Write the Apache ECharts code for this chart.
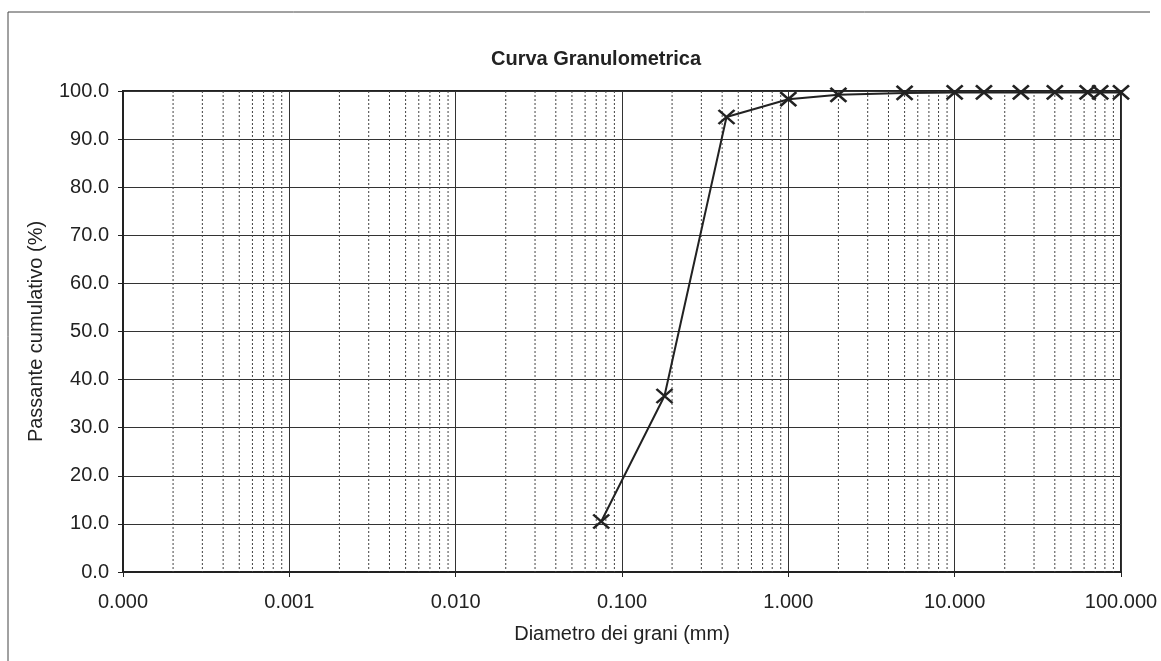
<!DOCTYPE html>
<html>
<head>
<meta charset="utf-8">
<script src="https://cdn.jsdelivr.net/npm/echarts@6/dist/echarts.min.js"></script>
<style>
  html, body { margin: 0; padding: 0; background: #fff; }
  #chart { width: 1161px; height: 661px; }
</style>
</head>
<body>
<div id="chart"></div>
<script>
// diametri setacci (mm) e passante cumulativo (%)
const diametri = [0.075, 0.18, 0.425, 1, 2, 5, 10, 15, 25, 40, 63, 75, 100];
const passante = [10.5, 36.6, 94.6, 98.3, 99.2, 99.6, 99.7, 99.7, 99.7, 99.7, 99.7, 99.7, 99.7];

// linee secondarie della scala logaritmica (2..9 per ogni decade)
const decadi = [0.0001, 0.001, 0.01, 0.1, 1, 10];
const multipli = [2, 3, 4, 5, 6, 7, 8, 9];

const minori = [];
decadi.forEach(d => {
  multipli.forEach(m => minori.push([+(d * m).toPrecision(3)]));
});

const testo = "#222";
const font = "'Liberation Sans', Arial, sans-serif";

const chart = echarts.init(document.getElementById("chart"));

const option = {
  backgroundColor: "#fff",
  animation: false,
  title: {
    text: "Curva Granulometrica",
    left: 591,
    top: 44,
    textAlign: "center",
    textStyle: {
      color: testo,
      fontFamily: font,
      fontSize: 20,
      fontWeight: "bold"
    }
  },
  grid: {
    left: 123,
    right: 40,
    top: 91,
    bottom: 89,
    show: true,
    borderColor: "#222",
    borderWidth: 2,
    backgroundColor: "transparent"
  },
  xAxis: {
    type: "log",
    logBase: 10,
    min: 0.0001,
    max: 100,
    splitNumber: 6,
    name: "Diametro dei grani (mm)",
    nameLocation: "middle",
    nameGap: 52,
    nameTextStyle: { color: testo, fontFamily: font, fontSize: 20 },
    axisLine: { show: true, lineStyle: { color: "#222", width: 2 } },
    axisTick: { show: true, length: 5, lineStyle: { color: "#222" } },
    axisLabel: {
      color: testo,
      fontFamily: font,
      fontSize: 20,
      margin: 20,
      formatter: v => v.toFixed(3)
    },
    splitLine: { show: true, lineStyle: { color: "#333", width: 1 } }
  },
  yAxis: {
    type: "value",
    min: 0,
    max: 100,
    interval: 10,
    name: "Passante cumulativo (%)",
    nameLocation: "middle",
    nameGap: 77,
    nameTextStyle: { color: testo, fontFamily: font, fontSize: 20 },
    axisLine: { show: true, lineStyle: { color: "#222", width: 2 } },
    axisTick: { show: true, length: 5, lineStyle: { color: "#222" } },
    axisLabel: {
      color: testo,
      fontFamily: font,
      fontSize: 20,
      margin: 14,
      formatter: v => v.toFixed(1)
    },
    splitLine: { show: true, lineStyle: { color: "#333", width: 1 } }
  },
  graphic: [
    {
      type: "line",
      shape: { x1: 8, y1: 12, x2: 1150, y2: 12 },
      style: { stroke: "#444", lineWidth: 1 }
    },
    {
      type: "line",
      shape: { x1: 8, y1: 12, x2: 8, y2: 661 },
      style: { stroke: "#444", lineWidth: 1 }
    }
  ],
  series: [
    {
      name: "griglia",
      type: "custom",
      silent: true,
      data: minori,
      encode: { x: 0 },
      renderItem: (params, api) => {
        const v = api.value(0);
        const alto = api.coord([v, 100]);
        const basso = api.coord([v, 0]);
        return {
          type: "line",
          shape: { x1: alto[0], y1: alto[1], x2: basso[0], y2: basso[1] },
          style: { stroke: "#444", lineWidth: 1, lineDash: [2, 2] }
        };
      },
      z: 1
    },
    {
      name: "Curva",
      type: "line",
      data: diametri.map((d, i) => [d, passante[i]]),
      symbol: "path://M0,0L10,10M10,0L0,10",
      symbolSize: [16, 14],
      showSymbol: true,
      lineStyle: { color: "#222", width: 2 },
      itemStyle: { color: "transparent", borderColor: "#222", borderWidth: 2.5 },
      z: 5
    }
  ]
};

chart.setOption(option);
</script>
</body>
</html>
